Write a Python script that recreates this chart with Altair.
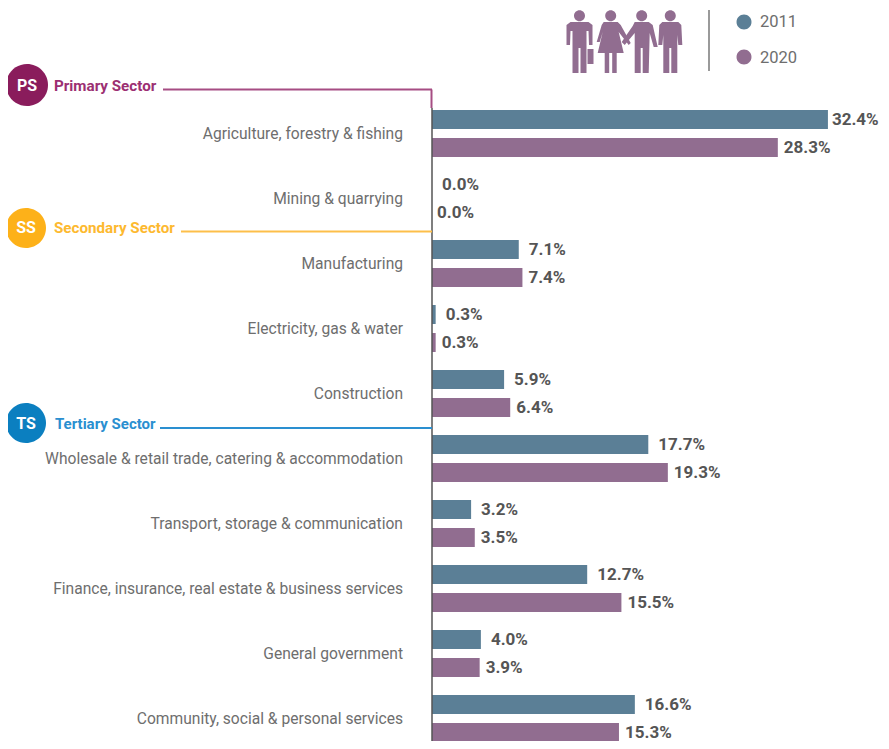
import altair as alt
import pandas as pd

categories = [
    "Agriculture, forestry & fishing", "Mining & quarrying", "Manufacturing",
    "Electricity, gas & water", "Construction",
    "Wholesale & retail trade, catering & accommodation",
    "Transport, storage & communication",
    "Finance, insurance, real estate & business services",
    "General government", "Community, social & personal services",
]
values_2011 = [32.4, 0.0, 7.1, 0.3, 5.9, 17.7, 3.2, 12.7, 4.0, 16.6]
values_2020 = [28.3, 0.0, 7.4, 0.3, 6.4, 19.3, 3.5, 15.5, 3.9, 15.3]
C2011 = "#5b7f96"
C2020 = "#916d90"
FONT = "Roboto"
TXT = "#6e6e6e"
VAL = "#555555"

rows = pd.DataFrame({"cat": categories})
df = pd.DataFrame(
    [{"cat": c, "series": "2011", "value": v} for c, v in zip(categories, values_2011)]
    + [{"cat": c, "series": "2020", "value": v} for c, v in zip(categories, values_2020)]
)
one = pd.DataFrame({"k": [0]})

X = alt.X("value:Q", axis=None, scale=alt.Scale(domain=[0, 40], range=[424, 424 + 488.8]))
Y = alt.Y("cat:N", axis=None, sort=categories,
          scale=alt.Scale(domain=categories, range=[93, 743]))

base = alt.Chart(df).transform_calculate(label="format(datum.value,'.1f')+'%'")


def bars(series, color, off):
    return base.transform_filter(f"datum.series=='{series}'").mark_bar(
        color=color, height=19, yOffset=off
    ).encode(x=X, y=Y)


def labels(cond, dx, off):
    return base.transform_filter(cond).mark_text(
        align="left", baseline="middle", dx=dx, dy=off, font=FONT, fontWeight="bold",
        fontSize=17, color=VAL,
    ).encode(x=X, y=Y, text="label:N")


cat_labels = alt.Chart(rows).mark_text(
    align="right", baseline="middle", font=FONT, fontSize=15.6, color=TXT
).encode(x=alt.value(395), y=Y, text="cat:N")


def rule(x1, x2, y1, y2, color, w):
    return alt.Chart(one).mark_rule(color=color, strokeWidth=w).encode(
        x=alt.value(x1 - 8), x2=alt.value(x2 - 8), y=alt.value(y1 - 8), y2=alt.value(y2 - 8))


def dot(x, y, r, color):
    return alt.Chart(one).mark_point(filled=True, opacity=1, color=color, size=4 * r * r, shape="M-1,0A1,1 0 1,1 1,0A1,1 0 1,1 -1,0Z").encode(
        x=alt.value(x - 8), y=alt.value(y - 8))


def text(x, y, s, size, color, weight="normal", align="left"):
    return alt.Chart(one).mark_text(
        text=s, align=align, baseline="middle", font=FONT, fontSize=size, color=color, fontWeight=weight
    ).encode(x=alt.value(x - 8), y=alt.value(y - 8))


def person(x, path):
    return alt.Chart(one).mark_point(filled=True, opacity=1, color=C2020, size=4, shape=path).encode(
        x=alt.value(x - 8), y=alt.value(45 - 8))


HEAD = "M-5.5,-29.3A5.5,5.5 0 1,1 5.5,-29.3A5.5,5.5 0 1,1 -5.5,-29.3Z"
man = HEAD + ("M-9,-23L9,-23L13,-20L13,0L9.5,0L9,-14L7,-14L7,28L1,28L1,3L-1,3L-1,28L-7,28L-7,-14L-9,-14L-9.5,0L-13,0L-13,-20Z"
              "M8,4L14,4L14,19L8,19Z")
woman = HEAD + ("M-7,-23L7,-23L10,-20L20,-2L18,0L8,-13L13,8L6,8L6,28L1.5,28L1.5,8L-1.5,8L-1.5,28L-6,28L-6,8L-13,8L-8,-13L-11,-3L-14,-3L-9,-20Z")
worker = HEAD + ("M-7,-23L7,-23L11,-20L16,2L12,2L8,-12L7,28L1,28L1,3L-1,3L-1,28L-7,28L-7,-12L-17,0L-20,-3L-9,-19Z")
suit = HEAD + ("M-8,-23L8,-23L11,-20L12,0L8,0L7,-10L7,28L1,28L1,3L-1,3L-1,28L-7,28L-7,-10L-8,0L-12,0L-11,-20Z")

chart = alt.layer(
    bars("2011", C2011, -14), bars("2020", C2020, 14),
    labels("datum.series=='2011' && datum.value<30", 10, -13.5),
    labels("datum.series=='2011' && datum.value>=30", 4, -13.5),
    labels("datum.series=='2020' && datum.value>0", 6, 14.5),
    labels("datum.series=='2020' && datum.value==0", 5, 14.5),
    cat_labels,
    rule(432, 432, 108, 749, "#555555", 1.5),
    rule(163, 432, 89.5, 89.5, "#a64d83", 2),
    rule(431.5, 431.5, 89.5, 108, "#a64d83", 2),
    rule(181, 432, 231.5, 231.5, "#fdbf4a", 2),
    rule(160, 432, 428, 428, "#2a8fd0", 2),
    dot(27, 85, 21, "#8a1c5c"), dot(26, 228, 20, "#fdb119"), dot(26, 423, 20, "#0b7fc0"),
    text(27, 86, "PS", 16, "white", "bold", "center"),
    text(26, 228, "SS", 16, "white", "bold", "center"),
    text(26, 424, "TS", 16, "white", "bold", "center"),
    text(54, 86, "Primary Sector", 15.2, "#9c2f72", "bold"),
    text(54, 228, "Secondary Sector", 15.2, "#fdb92f", "bold"),
    text(55, 424, "Tertiary Sector", 15, "#2a8fd0", "bold"),
    person(579.5, man), person(610.7, woman), person(641.7, worker), person(670.3, suit),
    rule(709, 709, 10, 71, "#9a9a9a", 2),
    dot(744, 22, 7.5, C2011), dot(744, 57, 7.5, C2020),
    text(760, 22, "2011", 16.5, TXT), text(760, 58, "2020", 16.5, TXT),
).properties(
    width=873, height=733, padding=0, autosize=alt.AutoSizeParams(type="none"), background="white"
).configure_view(stroke=None)

chart.save("out.html", embed_options={"renderer": "svg", "actions": False})
